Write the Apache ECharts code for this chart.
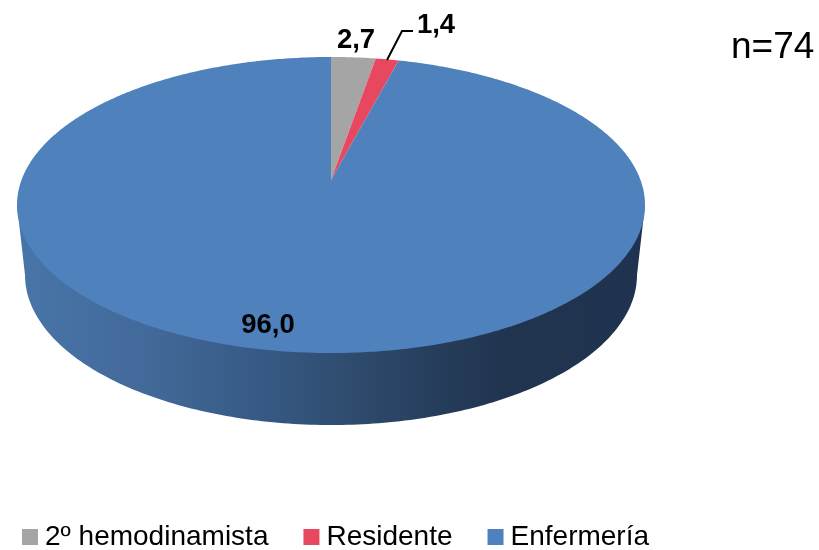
<!DOCTYPE html>
<html>
<head>
<meta charset="utf-8">
<style>html,body{margin:0;padding:0;background:#fff}#c{width:819px;height:550px}</style>
<script src="https://cdn.jsdelivr.net/npm/echarts@6/dist/echarts.min.js"></script>
</head>
<body>
<div id="c"></div>
<script>
const categories = ['2º hemodinamista', 'Residente', 'Enfermería'];
const values = [2.7, 1.4, 96.0];
const valueLabels = ['2,7', '1,4', '96,0'];
const colors = ['#A5A5A5', '#E8485F', '#4F81BD'];
const sampleSize = 'n=74';

// Perspective view of the pie disc
const apexX = 331, apexY = 180, scaleX = 309.5, scaleY = 143.8, tilt = 0.169;
const wall = { leftX: 17, rightX: 645, topY: 205, cx: 331, cy: 275, rx: 306, ry: 150 };
const labelAnchor = [[356, 40], [436, 25], [268, 325]];
const total = values.reduce((a, b) => a + b, 0);

function project(angle) {
  const u = Math.sin(angle), v = Math.cos(angle), d = 1 + tilt * v;
  return [apexX + scaleX * u / d, apexY - scaleY * v / d];
}
function startOf(i) {
  let s = 0;
  for (let k = 0; k < i; k++) s += values[k];
  return s;
}
function wallPoints() {
  const pts = [[wall.leftX, wall.topY]];
  for (let i = 0; i <= 180; i++) {
    const t = Math.PI * i / 180;
    pts.push([wall.cx - wall.rx * Math.cos(t), wall.cy + wall.ry * Math.sin(t)]);
  }
  pts.push([wall.rightX, wall.topY]);
  return pts;
}
function makeRender(i) {
  return function (params, api) {
    const v = api.value(0);
    const a0 = startOf(i) / total * 2 * Math.PI;
    const a1 = a0 + v / total * 2 * Math.PI;
    const n = Math.max(4, Math.ceil((a1 - a0) / 0.01));
    const pts = [[apexX, apexY]];
    for (let k = 0; k <= n; k++) pts.push(project(a0 + (a1 - a0) * k / n));
    const children = [];
    if (a1 - a0 > Math.PI) {
      children.push({
        type: 'polygon', shape: { points: wallPoints() },
        style: {
          fill: {
            type: 'linear', global: true, x: 17, y: 0, x2: 645, y2: 0,
            colorStops: [
              { offset: 0, color: '#4875A8' },
              { offset: 0.2, color: '#426A9A' },
              { offset: 0.38, color: '#375A85' },
              { offset: 0.52, color: '#2F4D70' },
              { offset: 0.66, color: '#263E5C' },
              { offset: 0.78, color: '#21344F' },
              { offset: 1, color: '#1F3350' }
            ]
          }
        }
      });
    }
    children.push({ type: 'polygon', shape: { points: pts }, style: { fill: colors[i] } });
    if (i === 1) {
      children.push({
        type: 'polyline',
        shape: { points: [[387, 60], [402, 31], [413, 31]] },
        style: { fill: null, stroke: '#000', lineWidth: 2 }
      });
    }
    children.push({
      type: 'text',
      style: {
        text: valueLabels[i], x: labelAnchor[i][0], y: labelAnchor[i][1],
        align: 'center', verticalAlign: 'middle',
        font: 'bold 27.5px "Liberation Sans", Arial, sans-serif', fill: '#000'
      }
    });
    return { type: 'group', children };
  };
}

const chart = echarts.init(document.getElementById('c'), null, { renderer: 'canvas' });
chart.setOption({
  animation: false,
  backgroundColor: '#fff',
  title: {
    text: sampleSize, left: 731, top: 29, padding: 0,
    textStyle: { fontFamily: '"Liberation Sans", Arial, sans-serif', fontSize: 37, fontWeight: 'normal', color: '#000' }
  },
  legend: {
    data: categories, left: 22, top: 523, padding: 0,
    icon: 'rect', itemWidth: 16, itemHeight: 16, itemGap: 35,
    textStyle: { fontFamily: '"Liberation Sans", Arial, sans-serif', fontSize: 28, color: '#000', padding: [0, 0, 0, 2] }
  },
  series: categories.map((name, i) => ({
    type: 'custom', name, coordinateSystem: 'none',
    itemStyle: { color: colors[i] },
    data: [[values[i]]],
    renderItem: makeRender(i),
    silent: true
  }))
});
</script>
</body>
</html>
